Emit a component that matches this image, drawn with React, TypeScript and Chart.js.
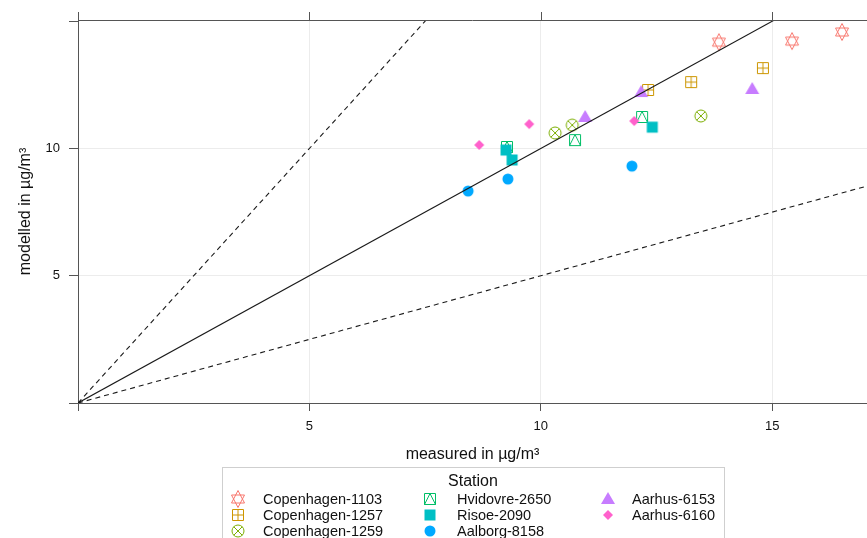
import React, { useEffect, useRef } from "react";
import { Chart, registerables } from "chart.js";

Chart.register(...registerables);

// ---- Data ----
const stations = [
  "Copenhagen-1103",
  "Copenhagen-1257",
  "Copenhagen-1259",
  "Hvidovre-2650",
  "Risoe-2090",
  "Aalborg-8158",
  "Aarhus-6153",
  "Aarhus-6160",
];
const stationColors = ["#F8766D", "#CD9600", "#7CAE00", "#00BE67", "#00BFC4", "#00A9FF", "#C77CFF", "#FF61CC"];
const stationMarkers = ["star", "sqplus", "circx", "sqtri", "sq", "circ", "tri", "diamond"];

const measured1103 = [13.85, 15.43, 16.51];
const modelled1103 = [14.18, 14.22, 14.58];
const measured1257 = [12.32, 13.25, 14.8];
const modelled1257 = [12.3, 12.61, 13.16];
const measured1259 = [10.31, 10.68, 13.46];
const modelled1259 = [10.61, 10.92, 11.28];
const measured2650 = [9.27, 10.74, 12.19];
const modelled2650 = [10.06, 10.33, 11.24];
const measured2090 = [9.25, 9.38, 12.41];
const modelled2090 = [9.94, 9.55, 10.84];
const measured8158 = [8.43, 9.29, 11.97];
const modelled8158 = [8.33, 8.8, 9.31];
const measured6153 = [10.96, 12.17, 14.57];
const modelled6153 = [11.24, 12.22, 12.34];
const measured6160 = [8.67, 9.75, 12.02];
const modelled6160 = [10.14, 10.96, 11.08];

const measuredAll = [measured1103, measured1257, measured1259, measured2650, measured2090, measured8158, measured6153, measured6160];
const modelledAll = [modelled1103, modelled1257, modelled1259, modelled2650, modelled2090, modelled8158, modelled6153, modelled6160];

// reference lines y = slope * x
const refSlopes = [1, 2, 0.5];
const refDashes = [[], [5, 4], [5, 4]];
const refLineX = [0, 20];

const xTickLabels = [5, 10, 15];
const yTickLabels = [5, 10];
const xMin = 0;
const xMax = 17.05;
const yMin = 0;
const yMax = 15.05;

const FONT = '"Liberation Sans", Arial, Helvetica, sans-serif';

function makeMarker(kind: string, color: string): HTMLCanvasElement {
  const S = 20;
  const cv = document.createElement("canvas");
  cv.width = S;
  cv.height = S;
  const ctx = cv.getContext("2d")!;
  const c = S / 2;
  ctx.strokeStyle = color;
  ctx.fillStyle = color;
  ctx.lineWidth = 1;
  ctx.beginPath();
  switch (kind) {
    case "star":
      ctx.moveTo(c, c - 8.5);
      ctx.lineTo(c + 6.5, c + 4);
      ctx.lineTo(c - 6.5, c + 4);
      ctx.closePath();
      ctx.moveTo(c, c + 8.5);
      ctx.lineTo(c + 6.5, c - 4);
      ctx.lineTo(c - 6.5, c - 4);
      ctx.closePath();
      ctx.stroke();
      break;
    case "sqplus":
      ctx.rect(c - 5.5, c - 5.5, 11, 11);
      ctx.moveTo(c - 5.5, c);
      ctx.lineTo(c + 5.5, c);
      ctx.moveTo(c, c - 5.5);
      ctx.lineTo(c, c + 5.5);
      ctx.stroke();
      break;
    case "circx":
      ctx.arc(c, c, 6, 0, Math.PI * 2);
      ctx.moveTo(c - 4.3, c - 4.3);
      ctx.lineTo(c + 4.3, c + 4.3);
      ctx.moveTo(c + 4.3, c - 4.3);
      ctx.lineTo(c - 4.3, c + 4.3);
      ctx.stroke();
      break;
    case "sqtri":
      ctx.rect(c - 5.5, c - 5.5, 11, 11);
      ctx.moveTo(c, c - 5.5);
      ctx.lineTo(c + 5.5, c + 5.5);
      ctx.lineTo(c - 5.5, c + 5.5);
      ctx.closePath();
      ctx.stroke();
      break;
    case "sq":
      ctx.fillRect(c - 5.5, c - 5.5, 11, 11);
      break;
    case "circ":
      ctx.arc(c, c, 5.5, 0, Math.PI * 2);
      ctx.fill();
      break;
    case "tri":
      ctx.moveTo(c, c - 7);
      ctx.lineTo(c + 7, c + 5);
      ctx.lineTo(c - 7, c + 5);
      ctx.closePath();
      ctx.fill();
      break;
    case "diamond":
      ctx.moveTo(c, c - 5);
      ctx.lineTo(c + 5, c);
      ctx.lineTo(c, c + 5);
      ctx.lineTo(c - 5, c);
      ctx.closePath();
      ctx.fill();
      break;
  }
  return cv;
}

export default function App() {
  const canvasRef = useRef<HTMLCanvasElement | null>(null);

  useEffect(() => {
    const canvas = canvasRef.current;
    if (!canvas) return;
    const markers = stations.map((_, i) => makeMarker(stationMarkers[i], stationColors[i]));

    const pointSets = stations.map((name, i) => ({
      type: "scatter" as const,
      label: name,
      data: measuredAll[i].map((x, j) => ({ x, y: modelledAll[i][j] })),
      pointStyle: markers[i],
      pointRadius: 6,
      order: 20 - i,
    }));

    const lineSets = refSlopes.map((s, k) => ({
      type: "line" as const,
      label: "ref" + k,
      data: refLineX.map((x) => ({ x, y: s * x })),
      borderColor: "#1a1a1a",
      borderWidth: 1.1,
      borderDash: refDashes[k],
      pointRadius: 0,
      fill: false,
      order: 0,
    }));

    const frameAndLegend = {
      id: "frameAndLegend",
      afterDraw(chart: any) {
        const ctx = chart.ctx;
        const area = chart.chartArea;
        const xs = chart.scales.x;
        ctx.save();
        // top border and top ticks
        ctx.strokeStyle = "#555";
        ctx.lineWidth = 1;
        ctx.beginPath();
        ctx.moveTo(area.left, Math.round(area.top) + 0.5);
        ctx.lineTo(area.right, Math.round(area.top) + 0.5);
        [0, ...xTickLabels].forEach((v) => {
          const px = Math.round(xs.getPixelForValue(v)) + 0.5;
          ctx.moveTo(px, area.top);
          ctx.lineTo(px, area.top - 8);
        });
        ctx.stroke();

        // axis titles
        ctx.fillStyle = "#111";
        ctx.textAlign = "center";
        ctx.textBaseline = "middle";
        ctx.font = `16px ${FONT}`;
        const cx = (area.left + area.right) / 2;
        ctx.fillText("measured in µg/m³", cx, 455);
        ctx.save();
        ctx.translate(26, (area.top + area.bottom) / 2);
        ctx.rotate(-Math.PI / 2);
        ctx.fillText("modelled in µg/m³", 0, 0);
        ctx.restore();

        // legend
        ctx.strokeStyle = "#cfcfcf";
        ctx.strokeRect(222.5, 467.5, 502, 90);
        ctx.fillStyle = "#111";
        ctx.font = `16px ${FONT}`;
        ctx.fillText("Station", 473, 482);
        const colSym = [238, 430, 608];
        const colTxt = [263, 457, 632];
        const rowY = [499, 515, 531];
        ctx.font = `14.5px ${FONT}`;
        ctx.textAlign = "left";
        stations.forEach((name, i) => {
          const col = Math.floor(i / 3);
          const row = i % 3;
          const m = markers[i];
          ctx.drawImage(m, Math.round(colSym[col] - m.width / 2), Math.round(rowY[row] - m.height / 2));
          ctx.fillText(name, colTxt[col], rowY[row] + 1);
        });
        ctx.restore();
      },
    };

    const chart = new Chart(canvas, {
      data: { datasets: [...lineSets, ...pointSets] as any },
      options: {
        animation: false,
        responsive: false,
        devicePixelRatio: 1,
        layout: { autoPadding: false, padding: { top: 20, right: 0, bottom: 0, left: 0 } },
        plugins: { legend: { display: false }, tooltip: { enabled: false } },
        scales: {
          x: {
            type: "linear",
            min: xMin,
            max: xMax,
            afterFit: (scale: any) => {
              scale.height = 135;
              scale.paddingLeft = 0;
              scale.paddingRight = 0;
            },
            border: { display: true, color: "#555", width: 1 },
            grid: {
              color: (c: any) => (c.tick && c.tick.value === 0 ? "rgba(0,0,0,0)" : "#ececec"),
              tickColor: "#555",
              tickLength: 8,
            },
            ticks: {
              stepSize: 5,
              includeBounds: false,
              maxRotation: 0,
              autoSkip: false,
              padding: 8,
              color: "#111",
              font: { family: FONT, size: 13 },
              callback: (v: any) => (xTickLabels.includes(Number(v)) ? String(v) : ""),
            },
          },
          y: {
            type: "linear",
            min: yMin,
            max: yMax,
            afterFit: (scale: any) => {
              scale.width = 78;
              scale.paddingTop = 0;
              scale.paddingBottom = 0;
            },
            border: { display: true, color: "#555", width: 1 },
            grid: {
              color: (c: any) => (c.tick && (c.tick.value === 0 || c.tick.value === 15) ? "rgba(0,0,0,0)" : "#ececec"),
              tickColor: "#555",
              tickLength: 9,
            },
            ticks: {
              stepSize: 5,
              includeBounds: false,
              autoSkip: false,
              padding: 9,
              color: "#111",
              font: { family: FONT, size: 13 },
              callback: (v: any) => (yTickLabels.includes(Number(v)) ? String(v) : ""),
            },
          },
        },
      },
      plugins: [frameAndLegend],
    } as any);

    return () => chart.destroy();
  }, []);

  return (
    <div style={{ position: "absolute", left: 0, top: 0, width: 867, height: 538, background: "#fff" }}>
      <canvas ref={canvasRef} width={867} height={538} style={{ display: "block" }} />
    </div>
  );
}
